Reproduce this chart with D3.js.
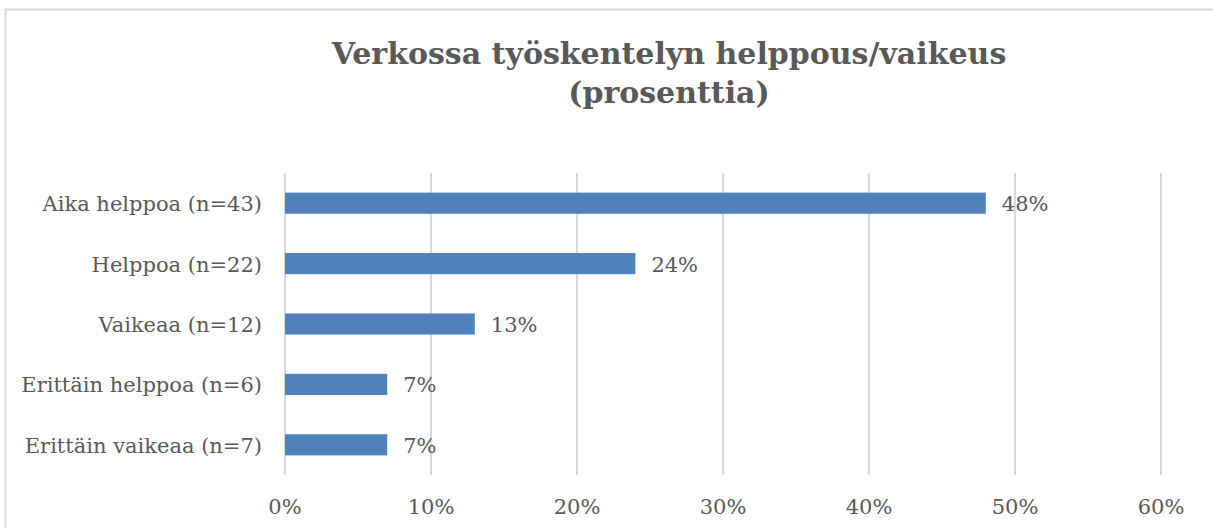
<!DOCTYPE html>
<html><head><meta charset="utf-8">
<script src="https://cdn.jsdelivr.net/npm/d3@7"></script>
<style>body{margin:0;background:#fff}svg{display:block}</style>
</head><body>
<script>
const categories = ["Aika helppoa (n=43)","Helppoa (n=22)","Vaikeaa (n=12)","Erittäin helppoa (n=6)","Erittäin vaikeaa (n=7)"];
const values = [48,24,13,7,7];
const ticks = [0,10,20,30,40,50,60];
const titleLines = ["Verkossa työskentelyn helppous/vaikeus","(prosenttia)"];

const W=1213,H=528;
const font="Georgia, 'DejaVu Serif', serif";
const svg=d3.select("body").append("svg").attr("width",W).attr("height",H);
svg.append("rect").attr("x",5.5).attr("y",9.5).attr("width",W).attr("height",H).attr("fill","#fff").attr("stroke","#d9d9d9").attr("stroke-width",2);

const x=d3.scaleLinear().domain([0,60]).range([285,1161]);
const y=d3.scaleBand().domain(categories).range([173,475]).paddingInner(0.65).paddingOuter(0.325);

svg.selectAll("line.grid").data(ticks).enter().append("line")
 .attr("x1",d=>x(d)).attr("x2",d=>x(d)).attr("y1",173).attr("y2",475)
 .attr("stroke","#d9d9d9").attr("stroke-width",2);

svg.selectAll("rect.bar").data(values).enter().append("rect")
 .attr("x",x(0)).attr("y",(d,i)=>y(categories[i])).attr("width",d=>x(d)-x(0)).attr("height",y.bandwidth())
 .attr("fill","#4F81BD");

svg.selectAll("text.val").data(values).enter().append("text")
 .attr("x",d=>x(d)+16).attr("y",(d,i)=>y(categories[i])+y.bandwidth()/2+8)
 .attr("font-family",font).attr("font-size",21).attr("fill","#595959").text(d=>d+"%");

svg.selectAll("text.cat").data(categories).enter().append("text")
 .attr("x",262).attr("y",d=>y(d)+y.bandwidth()/2+8).attr("text-anchor","end")
 .attr("font-family",font).attr("font-size",21).attr("fill","#595959").text(d=>d);

svg.selectAll("text.tick").data(ticks).enter().append("text")
 .attr("x",d=>x(d)).attr("y",514).attr("text-anchor","middle")
 .attr("font-family",font).attr("font-size",21).attr("fill","#595959").text(d=>d+"%");

svg.selectAll("text.title").data(titleLines).enter().append("text")
 .attr("x",669).attr("y",(d,i)=>64+i*39).attr("text-anchor","middle")
 .attr("font-family",font).attr("font-size",30).attr("font-weight","bold").attr("fill","#595959").text(d=>d);
</script>
</body></html>
